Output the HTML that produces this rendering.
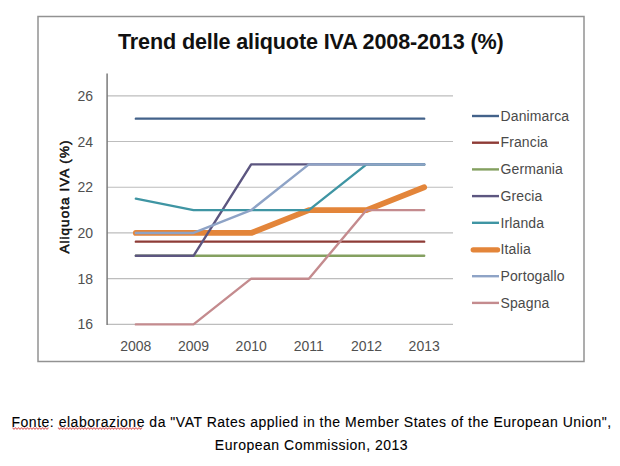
<!DOCTYPE html>
<html><head><meta charset="utf-8"><style>
html,body{margin:0;padding:0;background:#fff;width:620px;height:466px;overflow:hidden}
svg{display:block}
text{font-family:"Liberation Sans",sans-serif}
.title{font-weight:bold;font-size:21.6px;fill:#111;letter-spacing:-0.15px}
.leg{font-size:14px;fill:#4a4a4a;letter-spacing:0.12px}
.yl{font-size:14px;fill:#505050}
.xl{font-size:14px;fill:#505050}
.yt{font-weight:normal;font-size:13.5px;fill:#111;stroke:#111;stroke-width:0.55px;letter-spacing:1.05px}
.fn{font-size:14px;fill:#000;stroke:#000;stroke-width:0.1px;letter-spacing:0.51px}
</style></head><body>
<svg width="620" height="466" viewBox="0 0 620 466">
<rect x="38" y="16.5" width="546" height="345" fill="#fff" stroke="#929292" stroke-width="1.5"/>
<line x1="107" y1="324.40" x2="453" y2="324.40" stroke="#bdbdbd" stroke-width="1.2"/>
<line x1="107" y1="278.68" x2="453" y2="278.68" stroke="#bdbdbd" stroke-width="1.2"/>
<line x1="107" y1="232.96" x2="453" y2="232.96" stroke="#bdbdbd" stroke-width="1.2"/>
<line x1="107" y1="187.24" x2="453" y2="187.24" stroke="#bdbdbd" stroke-width="1.2"/>
<line x1="107" y1="141.52" x2="453" y2="141.52" stroke="#bdbdbd" stroke-width="1.2"/>
<line x1="107" y1="95.80" x2="453" y2="95.80" stroke="#bdbdbd" stroke-width="1.2"/>
<line x1="107.1" y1="73.5" x2="107.1" y2="325" stroke="#7a7a7a" stroke-width="1.5"/>
<polyline points="135.84,232.96 193.50,232.96 251.18,232.96 308.85,210.10 366.51,210.10 424.19,187.24" fill="none" stroke="#e3853a" stroke-width="5.8" stroke-linejoin="round" stroke-linecap="round"/>
<polyline points="135.84,118.66 193.50,118.66 251.18,118.66 308.85,118.66 366.51,118.66 424.19,118.66" fill="none" stroke="#43628a" stroke-width="2.4" stroke-linejoin="round" stroke-linecap="round"/>
<polyline points="135.84,241.65 193.50,241.65 251.18,241.65 308.85,241.65 366.51,241.65 424.19,241.65" fill="none" stroke="#8e3b36" stroke-width="2.4" stroke-linejoin="round" stroke-linecap="round"/>
<polyline points="135.84,255.82 193.50,255.82 251.18,255.82 308.85,255.82 366.51,255.82 424.19,255.82" fill="none" stroke="#84a060" stroke-width="2.4" stroke-linejoin="round" stroke-linecap="round"/>
<polyline points="135.84,255.82 193.50,255.82 251.18,164.38 308.85,164.38 366.51,164.38 424.19,164.38" fill="none" stroke="#5c5680" stroke-width="2.4" stroke-linejoin="round" stroke-linecap="round"/>
<polyline points="135.84,198.67 193.50,210.10 251.18,210.10 308.85,210.10 366.51,164.38 424.19,164.38" fill="none" stroke="#3f95a3" stroke-width="2.4" stroke-linejoin="round" stroke-linecap="round"/>
<polyline points="135.84,232.96 193.50,232.96 251.18,210.10 308.85,164.38 366.51,164.38 424.19,164.38" fill="none" stroke="#8ea3c6" stroke-width="2.4" stroke-linejoin="round" stroke-linecap="round"/>
<polyline points="135.84,324.40 193.50,324.40 251.18,278.68 308.85,278.68 366.51,210.10 424.19,210.10" fill="none" stroke="#c48b8e" stroke-width="2.4" stroke-linejoin="round" stroke-linecap="round"/>
<line x1="472" y1="116.00" x2="499" y2="116.00" stroke="#43628a" stroke-width="2.4" stroke-linecap="butt"/>
<text x="500.5" y="120.70" class="leg">Danimarca</text>
<line x1="472" y1="142.70" x2="499" y2="142.70" stroke="#8e3b36" stroke-width="2.4" stroke-linecap="butt"/>
<text x="500.5" y="147.40" class="leg">Francia</text>
<line x1="472" y1="169.40" x2="499" y2="169.40" stroke="#84a060" stroke-width="2.4" stroke-linecap="butt"/>
<text x="500.5" y="174.10" class="leg">Germania</text>
<line x1="472" y1="196.10" x2="499" y2="196.10" stroke="#5c5680" stroke-width="2.4" stroke-linecap="butt"/>
<text x="500.5" y="200.80" class="leg">Grecia</text>
<line x1="472" y1="222.80" x2="499" y2="222.80" stroke="#3f95a3" stroke-width="2.4" stroke-linecap="butt"/>
<text x="500.5" y="227.50" class="leg">Irlanda</text>
<line x1="473.2" y1="249.80" x2="497.6" y2="249.80" stroke="#e3853a" stroke-width="5.2" stroke-linecap="round"/>
<text x="500.5" y="254.20" class="leg">Italia</text>
<line x1="472" y1="276.20" x2="499" y2="276.20" stroke="#8ea3c6" stroke-width="2.4" stroke-linecap="butt"/>
<text x="500.5" y="280.90" class="leg">Portogallo</text>
<line x1="472" y1="302.90" x2="499" y2="302.90" stroke="#c48b8e" stroke-width="2.4" stroke-linecap="butt"/>
<text x="500.5" y="307.60" class="leg">Spagna</text>
<text x="93" y="329.40" class="yl" text-anchor="end">16</text>
<text x="93" y="283.68" class="yl" text-anchor="end">18</text>
<text x="93" y="237.96" class="yl" text-anchor="end">20</text>
<text x="93" y="192.24" class="yl" text-anchor="end">22</text>
<text x="93" y="146.52" class="yl" text-anchor="end">24</text>
<text x="93" y="100.80" class="yl" text-anchor="end">26</text>
<text x="135.84" y="351" class="xl" text-anchor="middle">2008</text>
<text x="193.50" y="351" class="xl" text-anchor="middle">2009</text>
<text x="251.18" y="351" class="xl" text-anchor="middle">2010</text>
<text x="308.85" y="351" class="xl" text-anchor="middle">2011</text>
<text x="366.51" y="351" class="xl" text-anchor="middle">2012</text>
<text x="424.19" y="351" class="xl" text-anchor="middle">2013</text>
<text x="118" y="48.6" class="title">Trend delle aliquote IVA 2008-2013 (%)</text>
<text transform="translate(68.6,253.6) rotate(-90)" class="yt">Aliquota IVA (%)</text>
<polyline points="12.5,427.7 14.0,429.3 15.5,427.7 17.0,429.3 18.5,427.7 20.0,429.3 21.5,427.7 23.0,429.3 24.5,427.7 26.0,429.3 27.5,427.7 29.0,429.3 30.5,427.7 32.0,429.3 33.5,427.7 35.0,429.3 36.5,427.7 38.0,429.3 39.5,427.7 41.0,429.3 42.5,427.7 44.0,429.3 45.5,427.7 47.0,429.3 48.5,427.7" fill="none" stroke="#dc5a5a" stroke-width="1.1" opacity="0.85"/>
<polyline points="58.0,427.7 59.5,429.3 61.0,427.7 62.5,429.3 64.0,427.7 65.5,429.3 67.0,427.7 68.5,429.3 70.0,427.7 71.5,429.3 73.0,427.7 74.5,429.3 76.0,427.7 77.5,429.3 79.0,427.7 80.5,429.3 82.0,427.7 83.5,429.3 85.0,427.7 86.5,429.3 88.0,427.7 89.5,429.3 91.0,427.7 92.5,429.3 94.0,427.7 95.5,429.3 97.0,427.7 98.5,429.3 100.0,427.7 101.5,429.3 103.0,427.7 104.5,429.3 106.0,427.7 107.5,429.3 109.0,427.7 110.5,429.3 112.0,427.7 113.5,429.3 115.0,427.7 116.5,429.3 118.0,427.7 119.5,429.3 121.0,427.7 122.5,429.3 124.0,427.7 125.5,429.3 127.0,427.7 128.5,429.3 130.0,427.7 131.5,429.3 133.0,427.7 134.5,429.3 136.0,427.7 137.5,429.3 139.0,427.7 140.5,429.3 142.0,427.7" fill="none" stroke="#dc5a5a" stroke-width="1.1" opacity="0.85"/>
<text x="311.6" y="426.6" class="fn" text-anchor="middle">Fonte: elaborazione da "VAT Rates applied in the Member States of the European Union",</text>
<text x="311.5" y="450" class="fn" text-anchor="middle">European Commission, 2013</text>
</svg>
</body></html>
